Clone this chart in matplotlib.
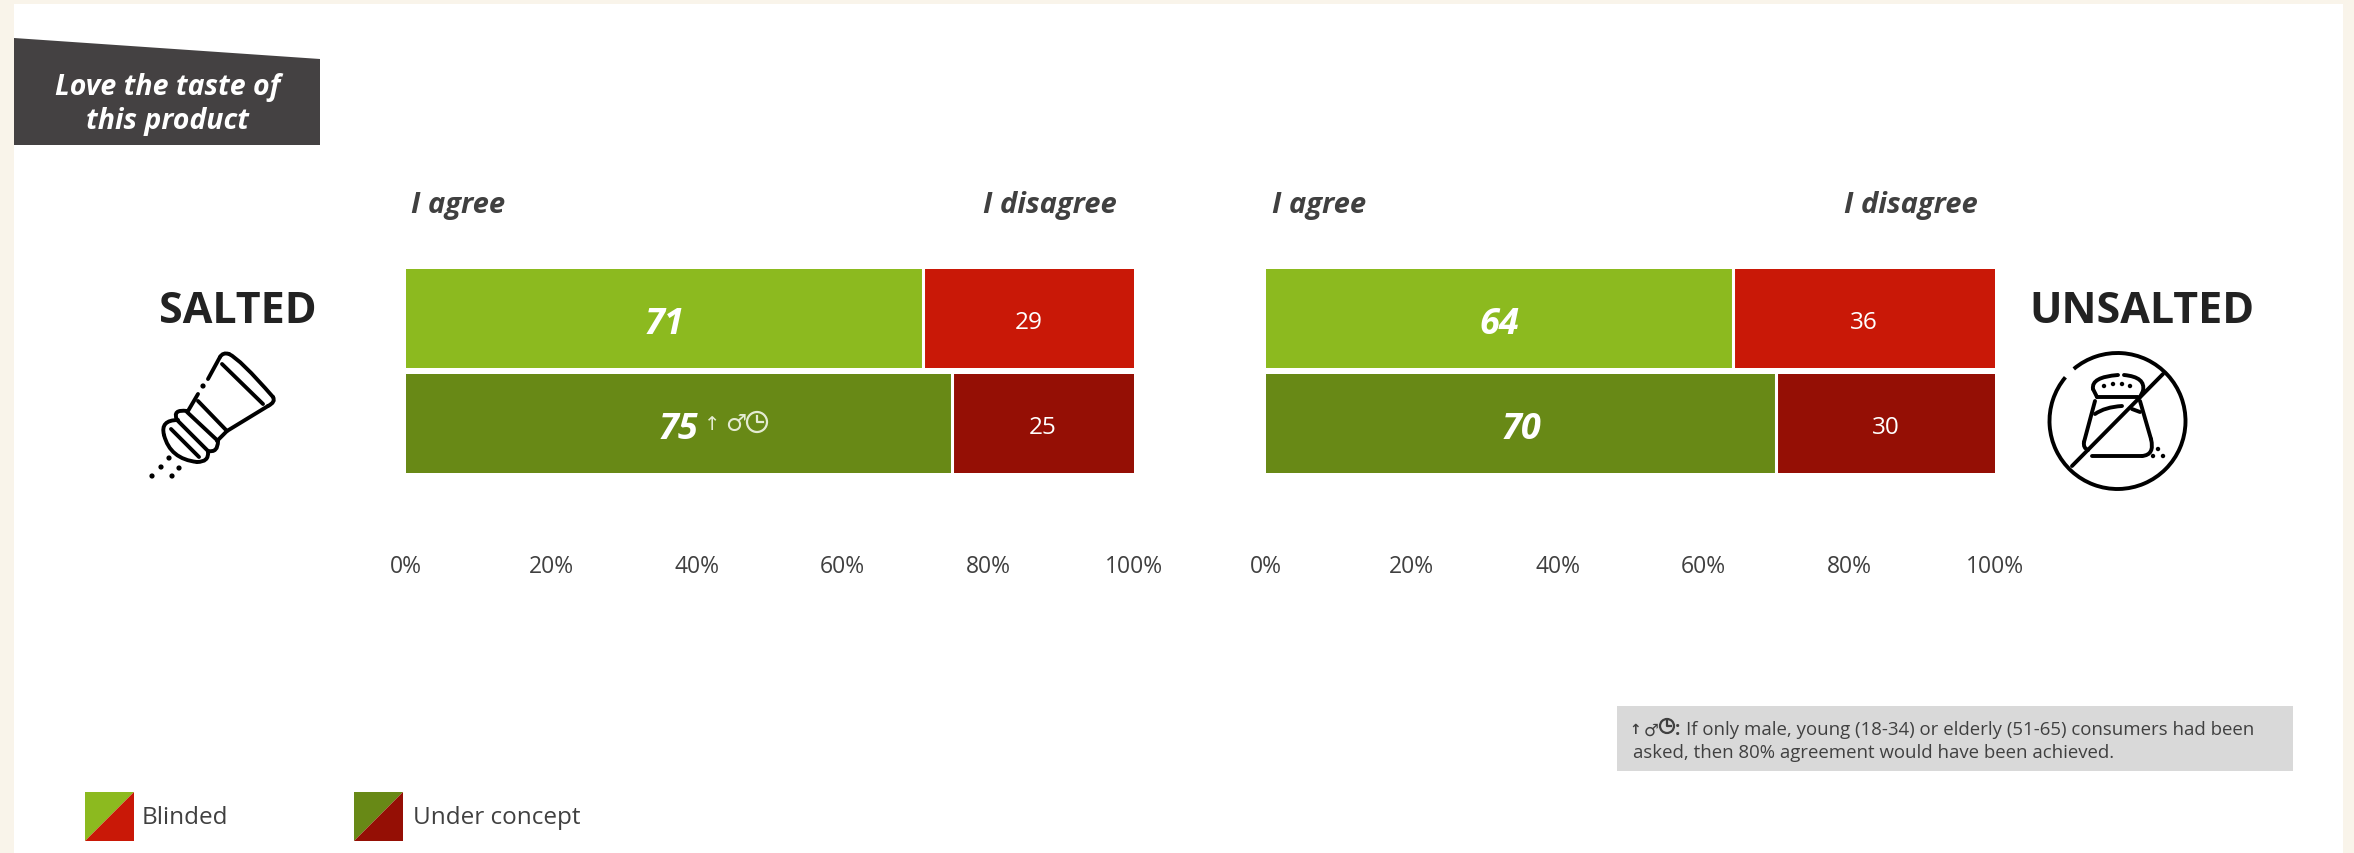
import matplotlib.pyplot as plt
from matplotlib.patches import Arc, Circle, PathPatch, Polygon, Rectangle
from matplotlib.path import Path

W, H = 2354, 854
FONT = "Open Sans"
ICON_FONT = ["DejaVu Sans"]

CONDITIONS = ["Blinded", "Under concept"]
SALTED_AGREE = [71, 75]
SALTED_DISAGREE = [29, 25]
UNSALTED_AGREE = [64, 70]
UNSALTED_DISAGREE = [36, 30]
TICKS = [0, 20, 40, 60, 80, 100]

GREENS = ["#8CBA1F", "#688916"]
REDS = ["#C91807", "#950F05"]
TEXT = "#404040"
DARK = "#222222"
PALE = "#E4EBD2"

plt.rcParams["font.family"] = [FONT, "DejaVu Sans"]


def px_axes(zorder):
    ax = fig.add_axes([0, 0, 1, 1], zorder=zorder)
    ax.set_xlim(0, W)
    ax.set_ylim(H, 0)
    ax.axis("off")
    return ax


def stacked_panel(left, width, agree, disagree):
    ax = fig.add_axes([left / W, 1 - 474 / H, width / W, 204 / H], zorder=1)
    ax.patch.set_alpha(0)
    bar_h = 99 / 105
    for i in range(len(agree)):
        ax.barh(i, agree[i], height=bar_h, color=GREENS[i], linewidth=0)
        ax.barh(i, disagree[i], left=agree[i], height=bar_h, color=REDS[i], linewidth=0)
        ax.plot([agree[i], agree[i]], [i - bar_h / 2, i + bar_h / 2], color="white", lw=2.2)
        ax.text(agree[i] / 2, i + 0.05, str(agree[i]), color="white", fontsize=26,
                fontweight="bold", fontstyle="italic", ha="center", va="center")
        ax.text(agree[i] + disagree[i] / 2, i + 0.03, str(disagree[i]), color="white",
                fontsize=17.5, ha="center", va="center")
    ax.set_xlim(0, 100)
    ax.set_ylim(1 + bar_h / 2, -bar_h / 2)
    ax.set_yticks([])
    ax.set_xticks(TICKS)
    ax.set_xticklabels([f"{t}%" for t in TICKS], fontsize=16.5, color=TEXT)
    ax.tick_params(axis="x", length=0, pad=58)
    for side in ax.spines.values():
        side.set_visible(False)
    return ax


def outline(ax, points, color="black", lw=2.8):
    xs, ys = zip(*points)
    ax.plot(xs, ys, color=color, lw=lw, solid_capstyle="round", solid_joinstyle="round")


def curve(ax, start, ctrl, end, color="black", lw=2.8):
    path = Path([start, ctrl, end], [Path.MOVETO, Path.CURVE3, Path.CURVE3])
    ax.add_patch(PathPatch(path, fill=False, edgecolor=color, lw=lw, capstyle="round"))


def dots(ax, points, size=2.6):
    for x, y in points:
        ax.add_patch(Circle((x, y), size, color="black", lw=0))


def clock(ax, x, y, r, color, lw=1.5):
    ax.add_patch(Circle((x, y), r, fill=False, edgecolor=color, lw=lw))
    ax.plot([x, x, x + r * 0.55], [y - r * 0.65, y, y], color=color, lw=lw)


def salted_icon(ax):
    # shaker body and lid
    outline(ax, [(208, 380), (220, 358)])
    curve(ax, (220, 358), (223, 353), (229, 355))
    curve(ax, (229, 355), (240, 360), (273, 398))
    curve(ax, (273, 398), (276, 403), (268, 407))
    outline(ax, [(268, 407), (227, 432), (217, 442)])
    outline(ax, [(222, 365), (263, 405)])
    # neck
    outline(ax, [(198, 395), (188, 412)])
    outline(ax, [(198, 402), (227, 432)])
    # threaded collar
    curve(ax, (187, 412), (172, 410), (177, 421))
    outline(ax, [(177, 421), (208, 452)])
    curve(ax, (208, 452), (218, 454), (218, 442))
    outline(ax, [(187, 413), (218, 442)])
    # cap
    curve(ax, (178, 421), (160, 421), (164, 436))
    curve(ax, (164, 436), (170, 460), (197, 463))
    curve(ax, (197, 463), (209, 463), (208, 453))
    outline(ax, [(171, 430), (199, 458)])
    dots(ax, [(203, 387), (169, 459), (161, 468), (179, 469), (152, 477), (172, 477)])


def unsalted_icon(ax):
    ax.add_patch(Arc((2117.5, 422), 136, 136, theta1=230, theta2=580, edgecolor="black", lw=2.8))
    outline(ax, [(2163, 375), (2072, 467)])
    # lid
    outline(ax, [(2097, 398), (2093, 390)])
    curve(ax, (2093, 390), (2091, 378), (2118, 376))
    curve(ax, (2124, 376), (2146, 378), (2143, 392))
    outline(ax, [(2143, 392), (2140, 398)])
    outline(ax, [(2097, 398), (2138, 398)])
    dots(ax, [(2104, 387), (2113, 385), (2122, 385), (2130, 387)], 2.2)
    # jar
    outline(ax, [(2095, 402), (2084, 443)])
    curve(ax, (2084, 443), (2083, 449), (2088, 451))
    outline(ax, [(2092, 457), (2142, 457)])
    curve(ax, (2142, 457), (2155, 456), (2151, 440))
    outline(ax, [(2151, 440), (2140, 402)])
    curve(ax, (2095, 415), (2105, 408), (2122, 407))
    outline(ax, [(2132, 410), (2140, 413)])
    dots(ax, [(2158, 450), (2153, 457), (2163, 457)], 2.2)


def legend_swatch(ax, x, y, size, green, red):
    ax.add_patch(Polygon([(x, y), (x + size, y), (x, y + size)], color=green, lw=0))
    ax.add_patch(Polygon([(x + size, y), (x + size, y + size), (x, y + size)], color=red, lw=0))


fig = plt.figure(figsize=(W / 100, H / 100), dpi=100, facecolor="#F9F4EA")

back = px_axes(0)
back.add_patch(Rectangle((14, 5), 2329, H - 5, color="white", lw=0))

# title banner
back.add_patch(Polygon([(14, 39), (320, 60), (320, 146), (14, 146)], color="#444142", lw=0))
back.text(168, 87, "Love the taste of", color="white", fontsize=20.5, fontweight="bold",
          fontstyle="italic", ha="center", va="center")
back.text(167, 122, "this product", color="white", fontsize=20.5, fontweight="bold",
          fontstyle="italic", ha="center", va="center")

stacked_panel(406, 728, SALTED_AGREE, SALTED_DISAGREE)
stacked_panel(1266, 729, UNSALTED_AGREE, UNSALTED_DISAGREE)

# agree / disagree headers
for x, ha, label in [(411, "left", "I agree"), (1117, "right", "I disagree"),
                     (1272, "left", "I agree"), (1978, "right", "I disagree")]:
    back.text(x, 206, label, color=TEXT, fontsize=21, fontweight="bold",
              fontstyle="italic", ha=ha, va="center")

back.text(238, 312, "SALTED", color=DARK, fontsize=31, fontweight="bold", ha="center", va="center")
back.text(2142, 312, "UNSALTED", color=DARK, fontsize=31, fontweight="bold", ha="center", va="center")
salted_icon(back)
unsalted_icon(back)

# footnote box
back.add_patch(Rectangle((1617, 707), 676, 65, color="#D9D9D9", lw=0))
back.text(1629, 730, "↑", color=TEXT, fontsize=10, fontweight="bold", family=ICON_FONT,
          ha="left", va="center")
back.text(1644, 731, "♂", color=TEXT, fontsize=12, fontweight="bold", family=ICON_FONT,
          ha="left", va="center")
clock(back, 1667, 727, 7, TEXT, lw=1.6)
back.text(1675, 730, ":", color=TEXT, fontsize=13.4, fontweight="bold", ha="left", va="center")
back.text(1686, 730, "If only male, young (18-34) or elderly (51-65) consumers had been",
          color=TEXT, fontsize=13.4, ha="left", va="center")
back.text(1633, 753, "asked, then 80% agreement would have been achieved.",
          color=TEXT, fontsize=13.4, ha="left", va="center")

# legend
legend_swatch(back, 85, 793, 49, GREENS[0], REDS[0])
legend_swatch(back, 354, 793, 49, GREENS[1], REDS[1])
back.text(142, 818, CONDITIONS[0], color=TEXT, fontsize=17.5, ha="left", va="center")
back.text(413, 818, CONDITIONS[1], color=TEXT, fontsize=17.5, ha="left", va="center")

# subgroup markers beside the 75 label
front = px_axes(2)
front.patch.set_alpha(0)
front.text(704, 425, "↑", color=PALE, fontsize=14, family=ICON_FONT, ha="left", va="center")
front.text(725, 424, "♂", color=PALE, fontsize=17, family=ICON_FONT, ha="left", va="center")
clock(front, 757, 423, 10, PALE, lw=1.6)

fig.savefig("out.png", dpi=100, facecolor=fig.get_facecolor())
